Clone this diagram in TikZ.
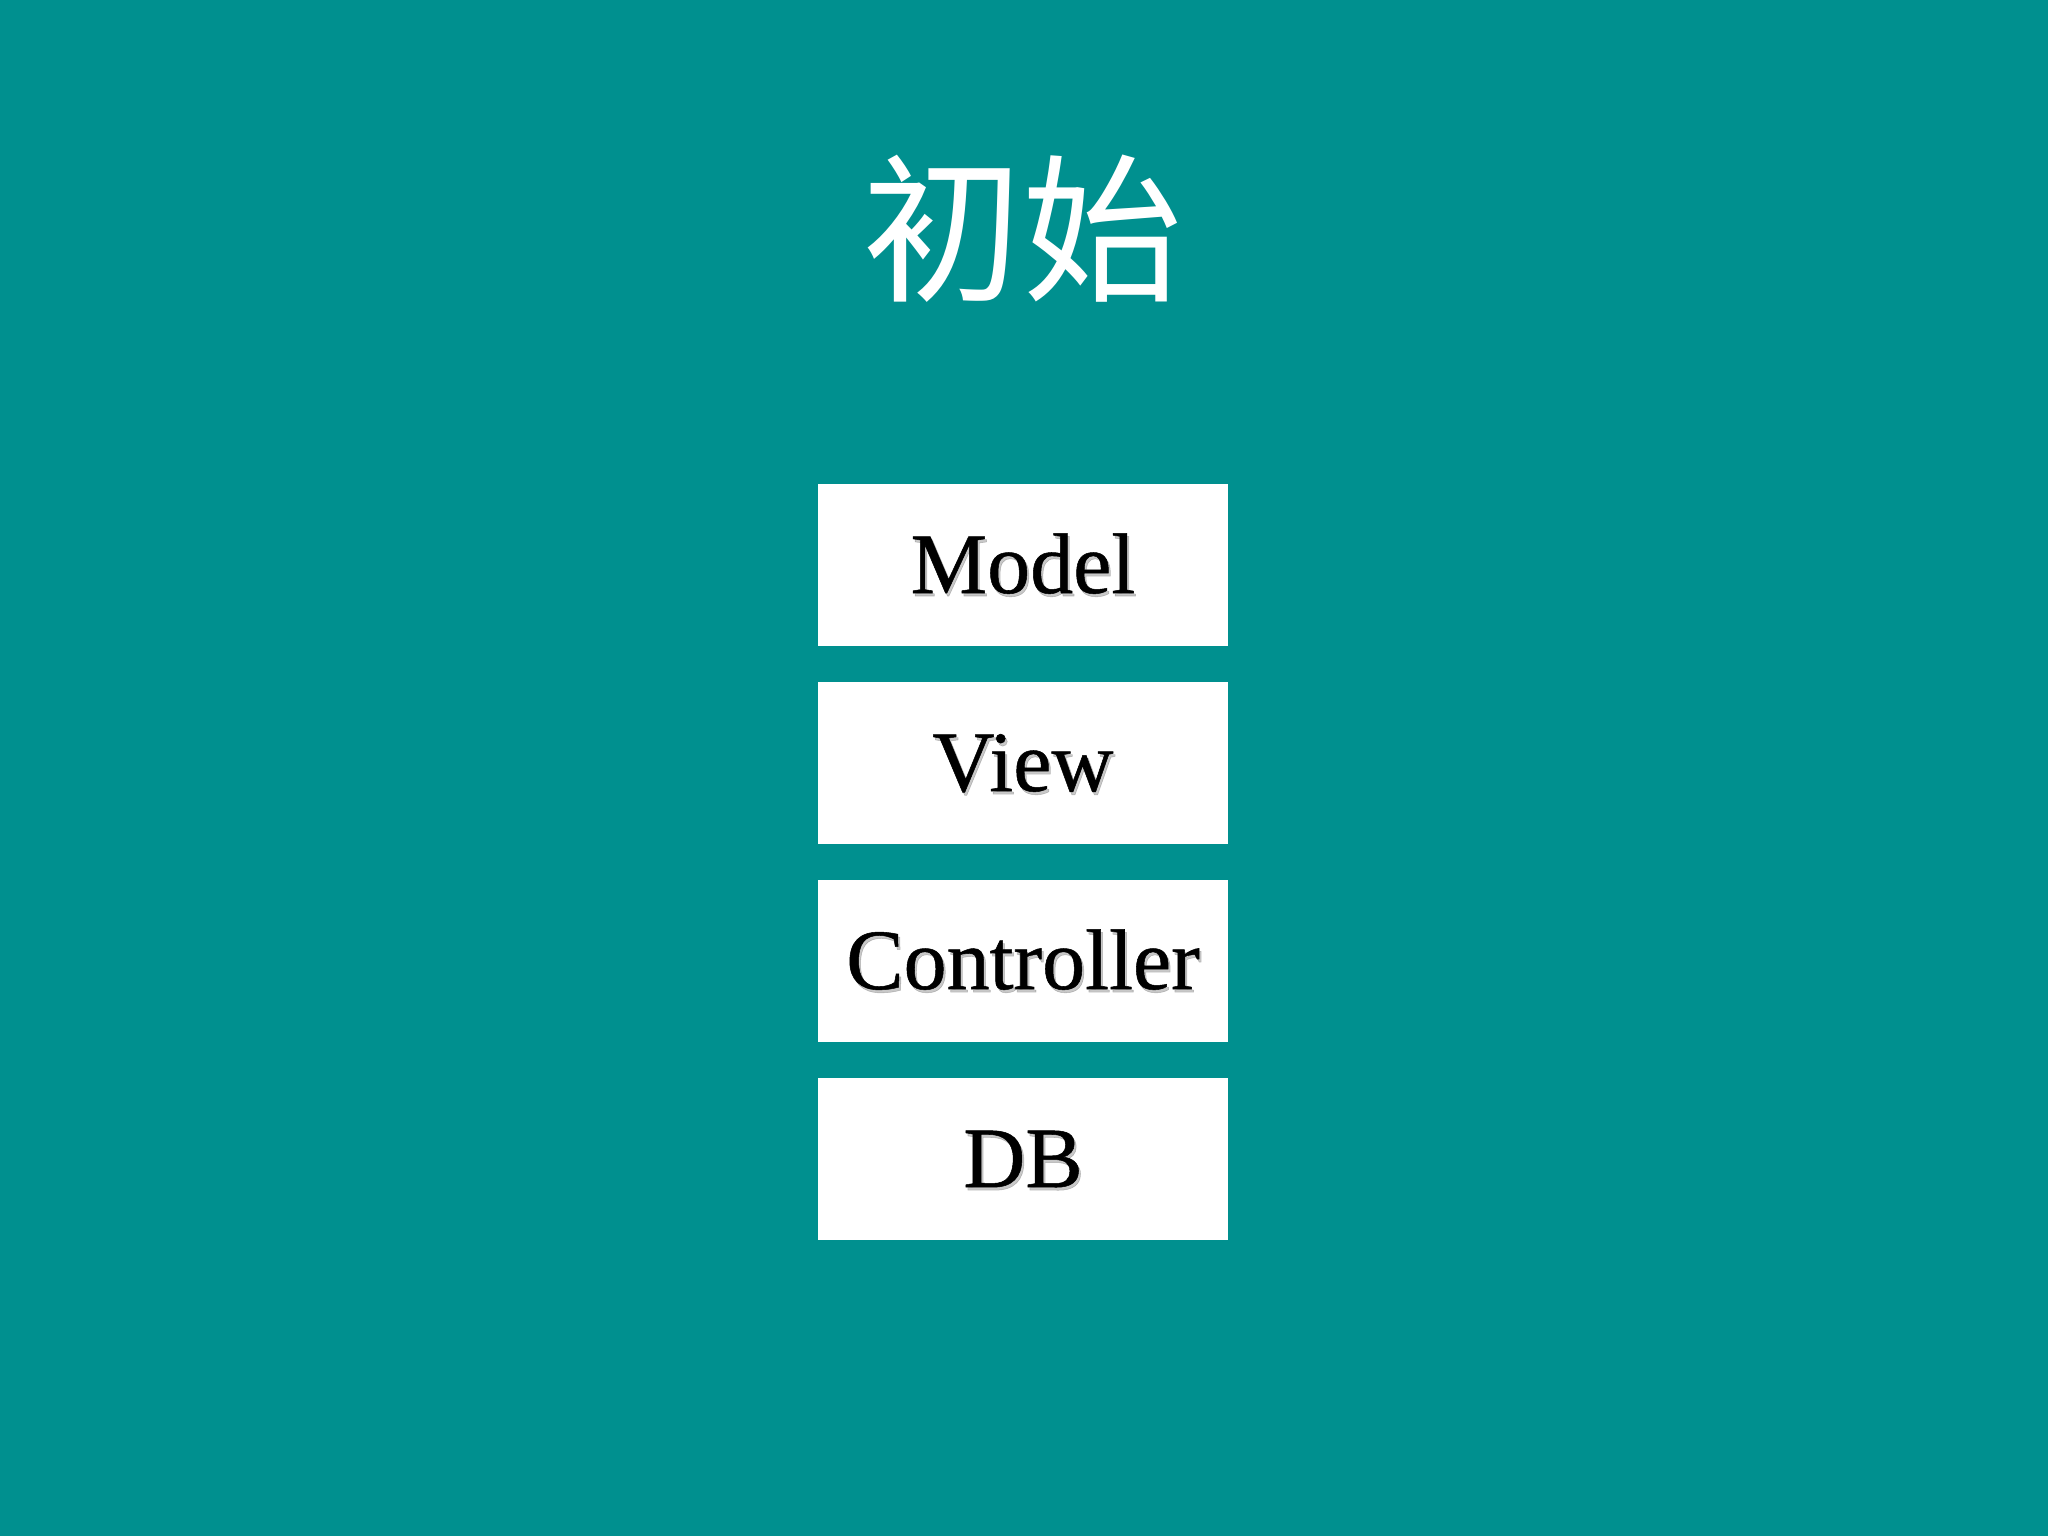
\documentclass[tikz,border=0pt]{standalone}
\usepackage{fontspec}
\setmainfont{Liberation Serif}
\newfontfamily\lblfont{Liberation Serif}[FakeBold=0.6]
\newfontfamily\cjk{Noto Sans CJK SC}
\definecolor{bgteal}{RGB}{0,144,143}
\tikzset{
  box/.style={fill=white, draw=none, minimum width=205pt, minimum height=81pt, inner sep=0pt},
  lbl/.style={font=\lblfont\fontsize{43}{43}\selectfont, text height=28pt, text depth=0pt, inner sep=0pt, text=black},
  lblshadow/.style={lbl, text=black!70, opacity=0.3},
  title/.style={font=\cjk\fontsize{80}{80}\selectfont, text=white, inner sep=0pt}
}
\begin{document}
\begin{tikzpicture}[x=0.5pt,y=-0.5pt]
\fill[bgteal] (0,0) rectangle (2048,1536);
\useasboundingbox (0,0) rectangle (2048,1536);
\node[title] (t) at (1022,229) {初始};
\node[box] (m) at (1023,565) {};
\node[box] (v) at (1023,763) {};
\node[box] (c) at (1023,961) {};
\node[box] (d) at (1023,1159) {};
\foreach \n/\s in {m/Model,v/View,c/Controller,d/DB}{
  \node[lblshadow] at ([xshift=1pt,yshift=-1.5pt]\n) {\s};
  \node[lbl] (\n t) at (\n) {\s};
}
\end{tikzpicture}
\end{document}
